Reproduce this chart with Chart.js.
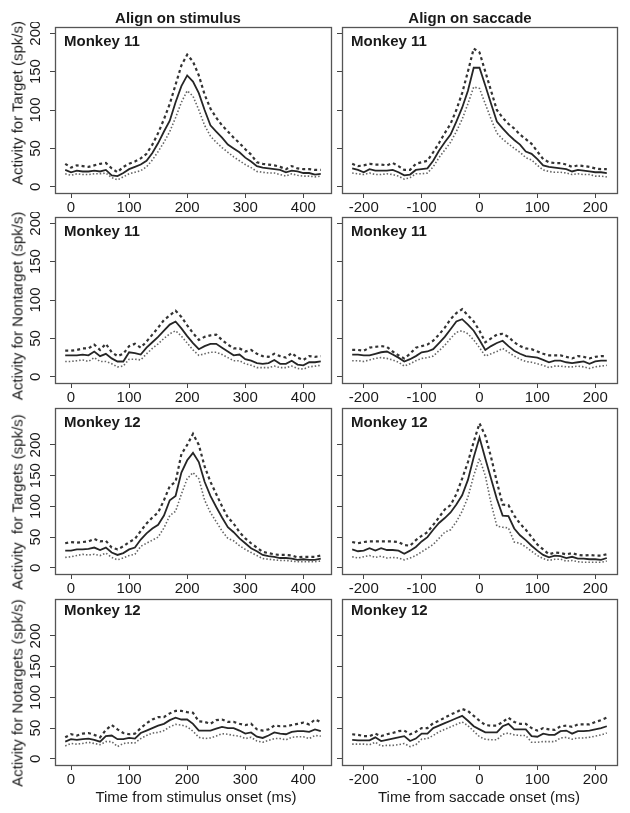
<!DOCTYPE html>
<html><head><meta charset="utf-8">
<script src="https://cdn.jsdelivr.net/npm/chart.js@4"></script>
<style>
html,body{margin:0;padding:0;background:#fff}
body{width:630px;height:813px;position:relative;overflow:hidden;font-family:"Liberation Sans",Arial,sans-serif;color:#1a1a1a}
canvas{position:absolute}
.t{position:absolute;white-space:pre;line-height:15px;font-size:15px;transform:translate(-50%,-50%)}
.b{font-weight:bold}
.r{transform:translate(-50%,-50%) rotate(-90deg)}
.l{transform:translate(0,-50%)}
</style></head><body>
<script>
// ---------- data ----------
const xStim = [-10,0,10,20,30,40,50,60,70,80,90,100,110,120,130,140,150,160,170,180,190,200,210,220,230,240,250,260,270,280,290,300,310,320,330,340,350,360,370,380,390,400,410,420,430];
const xSacc = [-220,-210,-200,-190,-180,-170,-160,-150,-140,-130,-120,-110,-100,-90,-80,-70,-60,-50,-40,-30,-20,-10,0,10,20,30,40,50,60,70,80,90,100,110,120,130,140,150,160,170,180,190,200,210,220];
const xTicksStim = [0,100,200,300,400];
const xTicksSacc = [-200,-100,0,100,200];
const yTicks = [0,50,100,150,200];

// Monkey 11, target, stimulus-aligned
const m11TgtStimMean  = [22,19,21,20,20,21,20,22,15,14,18,23,26,29,34,44,57,72,86,110,131,145,137,122,100,80,72,64,55,50,45,38,33,27,25,24,23,22,19,21,20,18,18,16,17];
const m11TgtStimUpper = [30,25,28,27,26,28,30,31,24,19,26,30,33,37,43,55,70,88,108,133,158,172,163,145,120,102,90,80,72,64,57,49,42,32,30,29,28,26,23,27,24,23,23,22,22];
const m11TgtStimLower = [17,15,17,16,16,17,17,18,12,9,13,17,19,21,26,35,46,58,72,90,110,125,118,100,80,66,58,51,45,39,34,29,25,20,19,18,18,16,14,17,15,14,14,13,14];
// Monkey 11, nontarget, stimulus-aligned
const m11NonStimMean  = [28,28,28,29,28,33,27,30,24,20,20,32,31,29,38,45,52,60,68,72,63,53,44,36,40,43,43,38,33,28,29,23,21,18,17,18,22,17,17,21,16,15,19,19,20];
const m11NonStimUpper = [34,34,35,37,37,42,35,43,32,27,30,40,43,38,46,55,64,74,80,86,78,67,57,48,52,54,55,48,42,37,37,33,35,30,27,26,30,27,25,31,25,22,27,26,27];
const m11NonStimLower = [20,20,21,22,20,25,20,20,17,13,14,23,23,22,30,37,43,50,56,60,53,44,35,28,30,32,32,29,25,21,21,17,15,12,12,12,14,12,12,14,11,10,13,14,15];
// Monkey 12, targets, stimulus-aligned
const m12TgtStimMean  = [28,28,30,30,31,33,29,33,25,21,24,30,33,46,56,64,70,85,110,117,155,175,187,172,140,117,99,82,66,58,48,40,32,27,21,19,18,16,16,15,13,14,13,13,15];
const m12TgtStimUpper = [40,42,41,42,43,47,43,44,33,30,35,42,47,60,72,82,90,110,133,140,185,200,218,200,165,140,120,100,82,72,58,48,40,33,26,24,22,21,21,20,17,18,18,18,20];
const m12TgtStimLower = [17,18,20,22,21,22,20,24,17,13,16,20,22,35,40,45,50,65,85,92,120,145,155,145,110,90,75,60,48,44,36,30,25,20,15,14,13,12,12,11,10,10,10,10,11];
// Monkey 12, notargets, stimulus-aligned
const m12NonStimMean  = [28,32,31,32,33,31,28,37,38,32,32,34,33,42,46,50,54,57,63,67,64,64,57,46,46,46,49,52,50,50,46,41,43,36,34,38,43,41,40,44,45,45,44,48,45];
const m12NonStimUpper = [35,40,38,41,42,39,35,47,55,48,42,40,41,50,58,64,68,68,74,78,78,76,75,61,60,57,63,64,60,60,57,55,57,48,46,48,54,53,53,55,57,59,56,64,60];
const m12NonStimLower = [21,25,24,25,27,25,23,28,28,20,25,26,26,33,38,42,43,46,52,56,55,52,45,35,33,34,37,41,40,38,37,33,35,29,27,30,33,33,31,35,36,36,33,38,37];
// Monkey 11, target, saccade-aligned
const m11TgtSaccMean  = [24,22,19,23,21,21,21,22,19,15,16,22,23,24,34,47,58,68,85,103,125,155,155,132,108,85,76,68,61,55,46,43,36,28,26,25,24,23,20,22,21,20,19,19,18];
const m11TgtSaccUpper = [30,27,28,30,29,29,28,31,27,22,22,30,32,34,45,57,70,82,100,122,150,180,175,150,125,100,90,82,76,68,62,56,46,36,32,31,31,29,26,28,27,26,24,23,23];
const m11TgtSaccLower = [18,17,16,18,16,16,17,16,14,10,12,17,17,18,26,38,48,58,72,88,108,130,128,108,88,70,62,56,50,45,38,35,28,22,20,19,19,18,16,17,16,16,14,14,13];
// Monkey 11, nontarget, saccade-aligned
const m11NonSaccMean  = [29,29,28,28,30,32,33,29,25,20,23,27,32,33,36,44,52,62,72,75,68,60,48,35,40,44,47,40,34,30,27,26,25,22,19,21,21,19,18,19,20,17,20,21,21];
const m11NonSaccUpper = [35,35,34,38,39,40,39,33,28,24,30,38,40,42,47,55,64,75,83,88,80,72,60,45,50,55,56,52,45,40,37,36,33,30,28,28,28,26,24,27,26,24,26,27,27];
const m11NonSaccLower = [21,21,20,22,24,25,24,22,19,14,17,21,24,25,27,34,41,50,58,60,56,48,38,27,30,33,37,32,27,23,20,19,17,15,12,14,14,13,13,14,13,11,13,14,15];
// Monkey 12, targets, saccade-aligned
const m12TgtSaccMean  = [30,27,28,32,28,32,29,29,28,23,28,34,43,50,62,73,81,90,103,118,143,180,212,178,145,112,85,84,64,53,45,36,28,21,17,20,19,16,18,15,15,14,14,13,16];
const m12TgtSaccUpper = [42,40,42,43,43,43,43,43,42,37,36,45,52,58,70,82,95,102,120,145,172,205,235,215,180,140,103,102,85,72,62,50,38,30,22,25,24,22,24,21,20,21,20,20,22];
const m12TgtSaccLower = [18,16,18,20,17,19,16,17,16,13,16,20,26,32,38,48,58,62,75,92,115,150,178,150,105,68,66,65,42,40,34,27,20,15,12,14,14,11,12,10,9,9,9,9,11];
// Monkey 12, notargets, saccade-aligned
const m12NonSaccMean  = [31,30,30,30,35,29,31,33,35,37,29,33,41,41,50,54,58,62,66,70,62,53,48,43,43,43,53,57,48,48,48,37,36,41,39,39,45,46,41,45,45,46,48,50,53];
const m12NonSaccUpper = [40,39,37,37,41,37,40,42,45,46,40,44,50,50,58,62,67,72,76,81,78,70,62,55,54,54,60,67,60,57,57,50,46,50,48,47,53,54,52,56,56,56,60,63,67];
const m12NonSaccLower = [24,24,24,23,27,21,22,22,23,25,20,23,32,33,38,44,48,52,56,60,54,45,36,32,31,31,40,42,39,38,38,27,27,28,28,28,34,35,32,34,34,35,37,39,42];

const monkeyLabels = ['Monkey 11','Monkey 11','Monkey 12','Monkey 12'];
const yTitles = ['Activity for Target (spk/s)','Activity for Nontarget (spk/s)','Activity  for Targets (spk/s)','Activity for Notargets (spk/s)'];
const colTitles = ['Align on stimulus','Align on saccade'];
const xTitles = ['Time from stimulus onset (ms)','Time from saccade onset (ms)'];
const yLimits = [[0,200],[0,200],[0,250],[0,250]];

const panels = [
  [m11TgtStimMean,m11TgtStimUpper,m11TgtStimLower, m11TgtSaccMean,m11TgtSaccUpper,m11TgtSaccLower],
  [m11NonStimMean,m11NonStimUpper,m11NonStimLower, m11NonSaccMean,m11NonSaccUpper,m11NonSaccLower],
  [m12TgtStimMean,m12TgtStimUpper,m12TgtStimLower, m12TgtSaccMean,m12TgtSaccUpper,m12TgtSaccLower],
  [m12NonStimMean,m12NonStimUpper,m12NonStimLower, m12NonSaccMean,m12NonSaccUpper,m12NonSaccLower]
];

// ---------- layout ----------
const colBox = [{L:55,R:331},{L:342,R:617}];
const rowTop = [27,217,408,599];
const boxH = 166;
const monkeyDy = [13,13.3,13,9.7];
const yTitleCy = [102.5,306,501.5,693];

function addText(str, x, y, cls){
  const d = document.createElement('div');
  d.className = 't ' + cls;
  d.textContent = str;
  d.style.left = x + 'px';
  d.style.top = y + 'px';
  document.body.appendChild(d);
}

const boxPlugin = {
  id:'box',
  afterDraw(chart){
    const {ctx, chartArea:a} = chart;
    ctx.save();
    ctx.strokeStyle = '#555';
    ctx.lineWidth = 1.3;
    ctx.strokeRect(a.left+0.5, a.top+0.5, a.right-a.left, a.bottom-a.top);
    ctx.restore();
  }
};
const yLabelPlugin = {
  id:'ylab',
  afterDraw(chart, args, opts){
    if(!opts.show) return;
    const ctx = chart.ctx, s = chart.scales.y;
    ctx.save();
    ctx.font = '15px "Liberation Sans", Arial, sans-serif';
    ctx.fillStyle = '#1a1a1a';
    ctx.textAlign = 'center';
    ctx.textBaseline = 'middle';
    for(const t of s.ticks){
      const py = s.getPixelForValue(t.value);
      ctx.save();
      ctx.translate(chart.chartArea.left - 20, py);
      ctx.rotate(-Math.PI/2);
      ctx.fillText(String(t.value), 0, 1);
      ctx.restore();
    }
    ctx.restore();
  }
};

function pts(xs, ys){ return xs.map((x,i)=>({x:x, y:ys[i]})); }

for(let r=0;r<4;r++){
  for(let c=0;c<2;c++){
    const box = colBox[c];
    const top = rowTop[r];
    const cv = document.createElement('canvas');
    const W = box.R - box.L + 60, H = boxH + 30;
    cv.width = W; cv.height = H;
    cv.style.left = (box.L-55)+'px';
    cv.style.top = (top-5)+'px';
    cv.style.width = W+'px'; cv.style.height = H+'px';
    document.body.appendChild(cv);
    const xs = c===0 ? xStim : xSacc;
    const xt = c===0 ? xTicksStim : xTicksSacc;
    const ext = 0.04*(xs[xs.length-1]-xs[0]);
    const yl = yLimits[r];
    const yext = 0.04*(yl[1]-yl[0]);
    const d = panels[r];
    const mean = d[c*3], upper = d[c*3+1], lower = d[c*3+2];
    new Chart(cv, {
      type:'line',
      data:{datasets:[
        {data:pts(xs,upper), borderColor:'#333', borderWidth:2.2, borderDash:[3,3], pointRadius:0, tension:0, fill:false},
        {data:pts(xs,lower), borderColor:'#666', borderWidth:1.6, borderDash:[1.5,2], pointRadius:0, tension:0, fill:false},
        {data:pts(xs,mean),  borderColor:'#262626', borderWidth:1.8, pointRadius:0, tension:0, fill:false}
      ]},
      options:{
        responsive:false, animation:false, devicePixelRatio:1,
        layout:{padding:{top:5,right:5,left:0,bottom:0}},
        plugins:{legend:{display:false}, tooltip:{enabled:false}, ylab:{show:c===0}},
        scales:{
          x:{type:'linear', min:xs[0]-ext, max:xs[xs.length-1]+ext,
             afterBuildTicks:s=>{s.ticks = xt.map(v=>({value:v}));},
             afterFit:s=>{s.height=25;},
             grid:{display:true, drawOnChartArea:false, drawTicks:true, tickLength:5, color:'#444', lineWidth:1},
             border:{display:false},
             ticks:{font:{family:'"Liberation Sans", Arial, sans-serif', size:15}, color:'#1a1a1a', padding:1, maxRotation:0, minRotation:0, autoSkip:false}},
          y:{type:'linear', min:yl[0]-yext, max:yl[1]+yext,
             afterBuildTicks:s=>{s.ticks = yTicks.map(v=>({value:v}));},
             afterFit:s=>{s.width=55;},
             grid:{display:true, drawOnChartArea:false, drawTicks:true, tickLength:5, color:'#444', lineWidth:1},
             border:{display:false},
             ticks:{display:false}}
        }
      },
      plugins:[boxPlugin, yLabelPlugin]
    });
    addText(monkeyLabels[r], box.L+9, top+monkeyDy[r], 'b l');
  }
  addText(yTitles[r], 17, yTitleCy[r], 'r');
}
addText(colTitles[0], 178, 17, 'b');
addText(colTitles[1], 470, 17, 'b');
addText(xTitles[0], 196, 796, '');
addText(xTitles[1], 479, 796, '');
</script>
</body></html>
